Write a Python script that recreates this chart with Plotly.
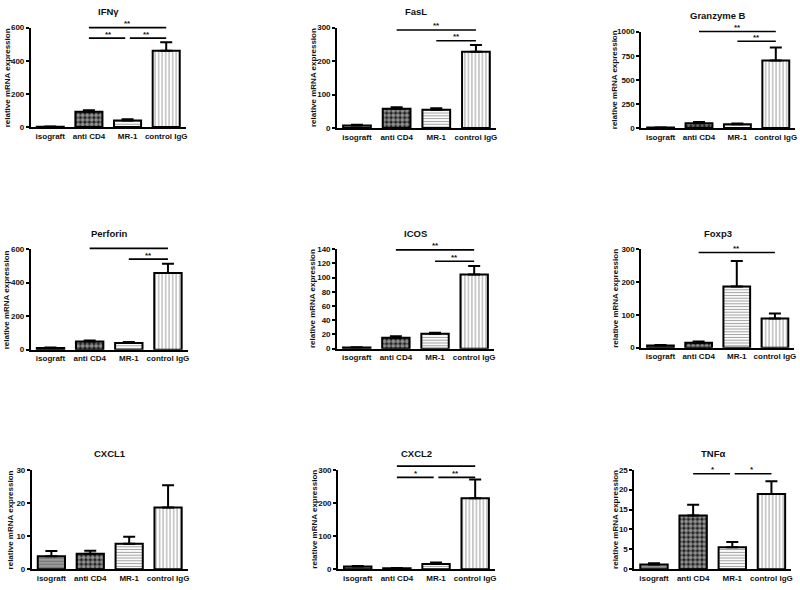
import plotly.graph_objects as go

# ---------------- data ----------------
categories = ["isograft", "anti CD4", "MR-1", "control IgG"]
genes = ["IFNγ", "FasL", "Granzyme B", "Perforin", "ICOS", "Foxp3", "CXCL1", "CXCL2", "TNFα"]

ifng_mean = [2, 92, 40, 460]
ifng_sem = [1, 10, 8, 52]
fasl_mean = [8, 58, 55, 228]
fasl_sem = [2, 4, 4, 20]
gzmb_mean = [5, 50, 40, 700]
gzmb_sem = [2, 12, 8, 135]
prf_mean = [10, 48, 40, 458]
prf_sem = [3, 6, 6, 55]
icos_mean = [1.5, 15.5, 21, 104.5]
icos_sem = [0.5, 2, 1.5, 12]
foxp3_mean = [7, 15, 186, 89]
foxp3_sem = [1.5, 4, 78, 15]
cxcl1_mean = [3.9, 4.7, 7.7, 18.6]
cxcl1_sem = [1.6, 0.9, 2.1, 6.7]
cxcl2_mean = [8, 3, 16, 214]
cxcl2_sem = [2, 1, 4, 57]
tnfa_mean = [1.2, 13.5, 5.5, 18.9]
tnfa_sem = [0.3, 2.7, 1.35, 3.2]

means = [ifng_mean, fasl_mean, gzmb_mean, prf_mean, icos_mean, foxp3_mean,
         cxcl1_mean, cxcl2_mean, tnfa_mean]
sems = [ifng_sem, fasl_sem, gzmb_sem, prf_sem, icos_sem, foxp3_sem,
        cxcl1_sem, cxcl2_sem, tnfa_sem]

ifng_ticks = [0, 200, 400, 600]
fasl_ticks = [0, 100, 200, 300]
gzmb_ticks = [0, 250, 500, 750, 1000]
prf_ticks = [0, 200, 400, 600]
icos_ticks = [0, 20, 40, 60, 80, 100, 120, 140]
foxp3_ticks = [0, 100, 200, 300]
cxcl1_ticks = [0, 10, 20, 30]
cxcl2_ticks = [0, 100, 200, 300]
tnfa_ticks = [0, 5, 10, 15, 20, 25]
ticks = [ifng_ticks, fasl_ticks, gzmb_ticks, prf_ticks, icos_ticks, foxp3_ticks,
         cxcl1_ticks, cxcl2_ticks, tnfa_ticks]

# significance brackets: (from group, to group, level, label)
ifng_sig = [(1, 3, 600, "**"), (1, 2, 537, "**"), (2, 3, 537, "**")]
fasl_sig = [(1, 3, 293, "**"), (2, 3, 261, "**")]
gzmb_sig = [(1, 3, 1000, "**"), (2, 3, 900, "**")]
prf_sig = [(1, 3, 605, "**"), (2, 3, 541, "**")]
icos_sig = [(1, 3, 139, "**"), (2, 3, 123, "**")]
foxp3_sig = [(1, 3, 290, "**")]
cxcl1_sig = []
cxcl2_sig = [(1, 3, 311, "**"), (1, 2, 277, "*"), (2, 3, 277, "**")]
tnfa_sig = [(1, 2, 24, "*"), (2, 3, 24, "*")]
sigs = [ifng_sig, fasl_sig, gzmb_sig, prf_sig, icos_sig, foxp3_sig,
        cxcl1_sig, cxcl2_sig, tnfa_sig]

# ---------------- layout (pixels) ----------------
W, H = 800, 590
panel_px = [  # x0, x1, ytop, ybottom
    (31, 186, 24, 125), (338, 497, 24, 126), (643, 797, 28, 126),
    (31, 188, 249, 351), (338, 495, 249, 350), (643, 796, 249, 349),
    (32, 188, 473, 574), (339, 496, 473, 574), (636, 793, 473, 574),
]
ytitle_shift = [-24, -23, -27, -24, -24, -26, -21, -24, -19]

FONT = "Liberation Sans, Arial, sans-serif"

bar_colors = ["#a0a0a0", "#1a1a1a", "white", "white"]
pat_shapes = ["-", ".", "-", "|"]
pat_fg = ["#505050", "white", "#505050", "#222222"]
pat_size = [3, 4.5, 2.8, 3.5]
pat_solid = [0.4, 0.62, 0.38, 0.3]

fig = go.Figure()
layout = dict(
    width=W, height=H, margin=dict(l=0, r=0, t=0, b=0),
    paper_bgcolor="white", plot_bgcolor="white", showlegend=False,
    font=dict(family=FONT, color="black"), bargap=0.3,
)
shapes, annotations = [], []

XR = [-0.5, 3.5]


def xfrac(v):
    return (v - XR[0]) / (XR[1] - XR[0])


for k in range(9):
    n = "" if k == 0 else str(k + 1)
    x0, x1, yt, yb = panel_px[k]
    ymax = ticks[k][-1]
    fig.add_trace(go.Bar(
        x=categories, y=means[k], xaxis="x" + n, yaxis="y" + n, width=0.7,
        marker=dict(
            color=bar_colors,
            line=dict(color="black", width=2),
            pattern=dict(shape=pat_shapes, fgcolor=pat_fg, size=pat_size,
                         solidity=pat_solid, fillmode="overlay"),
        ),
        error_y=dict(type="data", symmetric=False, array=sems[k],
                     arrayminus=[0] * 4, color="black", thickness=2, width=6),
        hoverinfo="x+y",
    ))
    layout["xaxis" + n] = dict(
        domain=[x0 / W, x1 / W], anchor="y" + n, range=XR,
        showline=True, linecolor="black", linewidth=2, ticks="",
        tickfont=dict(size=8, family=FONT, weight="bold", color="#111"),
        showgrid=False, zeroline=False, fixedrange=True,
    )
    layout["yaxis" + n] = dict(
        domain=[1 - yb / H, 1 - yt / H], anchor="x" + n, range=[0, ymax],
        tickvals=ticks[k], showline=True, linecolor="black", linewidth=2,
        ticks="outside", ticklen=3, tickwidth=1.5, tickcolor="black",
        tickfont=dict(size=8, family=FONT, weight="bold", color="#111"),
        showgrid=False, zeroline=False, fixedrange=True,
    )
    # panel title
    annotations.append(dict(
        text=genes[k], xref="x" + n + " domain", yref="y" + n + " domain",
        x=0.5, y=1, yshift=16, showarrow=False, xanchor="center", yanchor="middle",
        font=dict(size=9.5, family=FONT, weight="bold", color="#111"),
    ))
    # y axis title
    annotations.append(dict(
        text="relative mRNA expression", textangle=-90,
        xref="x" + n + " domain", yref="y" + n + " domain",
        x=0, y=0.5, xshift=ytitle_shift[k], showarrow=False,
        xanchor="center", yanchor="middle",
        font=dict(size=8, family=FONT, weight="bold", color="#111"),
    ))
    # significance brackets
    for (a, b, lvl, lab) in sigs[k]:
        xa, xb = float(a), float(b)
        for (a2, b2, l2, _) in sigs[k]:
            if l2 == lvl and (a2, b2) != (a, b):
                if b2 == a:
                    xa += 0.06
                if a2 == b:
                    xb -= 0.06
        shapes.append(dict(
            type="line", xref="x" + n + " domain", yref="y" + n + " domain",
            x0=xfrac(xa), x1=xfrac(xb), y0=lvl / ymax, y1=lvl / ymax,
            line=dict(color="black", width=1.6),
        ))
        annotations.append(dict(
            text=lab, xref="x" + n, yref="y" + n, x=(a + b) / 2, y=lvl,
            yshift=4, showarrow=False, xanchor="center", yanchor="middle",
            font=dict(size=8, family=FONT, weight="bold", color="#111"),
        ))

layout["shapes"] = shapes
layout["annotations"] = annotations
fig.update_layout(**layout)
fig.write_html(
    "out.html",
    config={"displayModeBar": False},
    post_script="document.body.style.margin='0';document.body.style.padding='0';"
                "document.body.style.overflow='hidden';",
)
